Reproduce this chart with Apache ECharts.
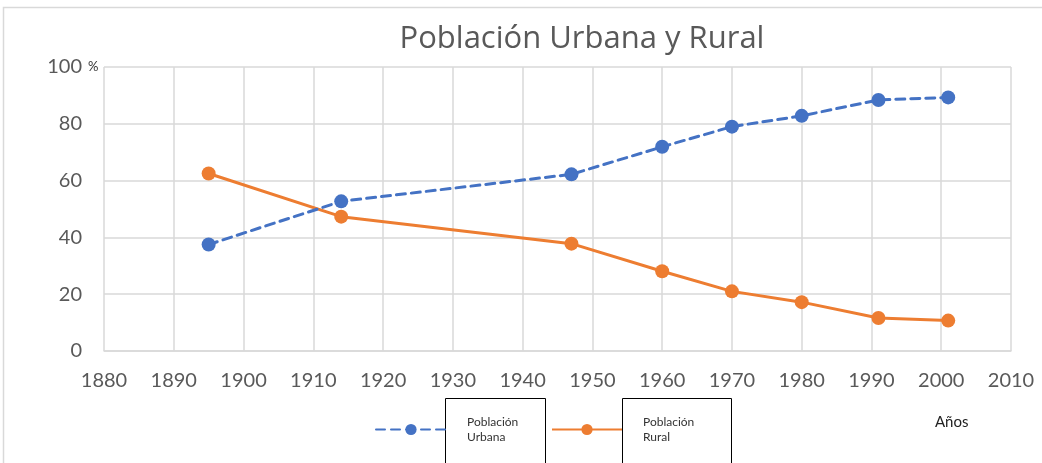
<!DOCTYPE html>
<html>
<head>
<meta charset="utf-8">
<script src="https://cdn.jsdelivr.net/npm/echarts@6/dist/echarts.min.js"></script>
<style>
html,body{margin:0;padding:0;background:#fff;}
#chart{width:1042px;height:463px;}
</style>
</head>
<body>
<div id="chart"></div>
<script>
const years = [1895, 1914, 1947, 1960, 1970, 1980, 1991, 2001];
const urbana = [37.5, 52.7, 62.2, 71.9, 79.0, 82.8, 88.4, 89.3];
const rural = [62.5, 47.3, 37.8, 28.1, 21.0, 17.2, 11.6, 10.7];
const seriesNames = ['Población Urbana', 'Población Rural'];
const legendLabels = {'Población Urbana': 'Población\nUrbana', 'Población Rural': 'Población\nRural'};
const titleText = 'Población Urbana y Rural';
const xAxisTitle = 'Años';
const yUnit = '%';

const FONT = 'Lato, "Liberation Sans", sans-serif';
const BLUE = '#4472C4';
const ORANGE = '#ED7D31';
const GRIDC = '#d9d9d9';

const chart = echarts.init(document.getElementById('chart'));
const legendBase = {
  orient: 'horizontal',
  top: 410,
  padding: 0,
  itemWidth: 70,
  itemHeight: 14,
  formatter: n => legendLabels[n],
  textStyle: {fontFamily: FONT, fontSize: 12, color: '#333', lineHeight: 15, padding: [0, 0, 9, 16]}
};
chart.setOption({
  animation: false,
  title: {
    text: titleText, left: 582, top: 24, textAlign: 'center', padding: 0,
    textStyle: {fontFamily: '"Open Sans", sans-serif', fontSize: 31, fontWeight: 'normal', color: '#595959'}
  },
  legend: [
    Object.assign({}, legendBase, {data: [seriesNames[0]], left: 375}),
    Object.assign({}, legendBase, {data: [seriesNames[1]], left: 551})
  ],
  grid: {left: 104, top: 67, width: 907, height: 284, containLabel: false},
  xAxis: {
    type: 'value', min: 1880, max: 2010, interval: 10,
    axisLine: {show: true, lineStyle: {color: GRIDC, width: 1.5}},
    axisTick: {show: false},
    axisLabel: {fontFamily: FONT, fontSize: 20, color: '#595959', margin: 20, formatter: v => String(v)},
    splitLine: {show: true, lineStyle: {color: GRIDC, width: 1.5}}
  },
  yAxis: {
    type: 'value', min: 0, max: 100, interval: 20,
    axisLine: {show: false},
    axisTick: {show: false},
    axisLabel: {fontFamily: FONT, fontSize: 20, color: '#595959', margin: 22},
    splitLine: {show: true, lineStyle: {color: GRIDC, width: 1.5}}
  },
  series: [
    {
      name: seriesNames[0], type: 'line',
      data: years.map((y, i) => [y, urbana[i]]),
      symbol: 'circle', symbolSize: 14,
      lineStyle: {color: BLUE, width: 3, type: [9, 6], cap: 'round'},
      itemStyle: {color: BLUE},
      z: 3
    },
    {
      name: seriesNames[1], type: 'line',
      data: years.map((y, i) => [y, rural[i]]),
      symbol: 'circle', symbolSize: 14,
      lineStyle: {color: ORANGE, width: 3},
      itemStyle: {color: ORANGE},
      z: 2
    }
  ],
  graphic: [
    {type: 'rect', shape: {x: 3.5, y: 7.5, width: 1050, height: 500}, style: {fill: 'none', stroke: GRIDC, lineWidth: 1.5}, silent: true, z: -10},
    {type: 'rect', shape: {x: 445.5, y: 398.5, width: 100, height: 80}, style: {fill: 'none', stroke: '#000', lineWidth: 1}, silent: true},
    {type: 'rect', shape: {x: 622.5, y: 398.5, width: 109, height: 80}, style: {fill: 'none', stroke: '#000', lineWidth: 1}, silent: true},
    {type: 'text', x: 935, y: 422, style: {text: xAxisTitle, fontFamily: FONT, fontSize: 15, fill: '#222', verticalAlign: 'middle'}},
    {type: 'text', x: 88, y: 67, style: {text: yUnit, fontFamily: FONT, fontSize: 13, fill: '#333', verticalAlign: 'middle'}}
  ]
});
</script>
</body>
</html>
